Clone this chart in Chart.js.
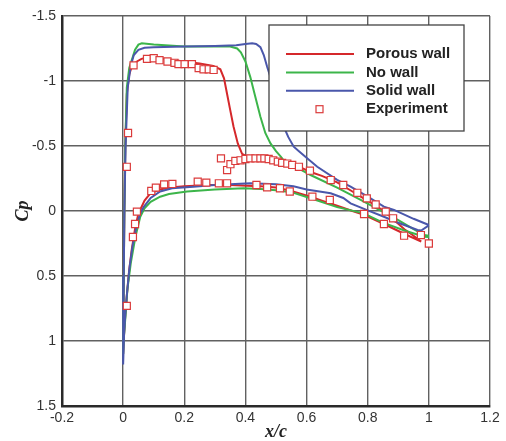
<!DOCTYPE html>
<html lang="en">
<head>
    <meta charset="UTF-8">
    <title>Cp distribution - porous wall / no wall / solid wall</title>
    <script src="https://cdn.jsdelivr.net/npm/chart.js"></script>
    <style>
        html, body { margin: 0; padding: 0; background: #fff; }
        #wrap { width: 506px; height: 441px; }
    </style>
</head>
<body>
    <div id="wrap"><canvas id="cpChart" width="506" height="441"></canvas></div>
    <script>
        // Axis ticks
        const xTicks = [-0.2, 0, 0.2, 0.4, 0.6, 0.8, 1, 1.2];
        const xTickLabels = ['-0.2', '0', '0.2', '0.4', '0.6', '0.8', '1', '1.2'];
        const cpTicks = [-1.5, -1, -0.5, 0, 0.5, 1, 1.5];
        const cpTickLabels = ['-1.5', '-1', '-0.5', '0', '0.5', '1', '1.5'];

        const seriesLabels = ['Porous wall', 'No wall', 'Solid wall', 'Experiment'];

        // Porous wall: upper surface TE -> LE, then lower surface LE -> TE
        const porousX = [0.975, 0.95, 0.92, 0.886, 0.853, 0.8, 0.777, 0.75, 0.7, 0.65, 0.613, 0.58, 0.55, 0.52, 0.5, 0.48, 0.45, 0.42, 0.405, 0.389, 0.375, 0.361, 0.35, 0.34, 0.33, 0.318, 0.295, 0.25, 0.2, 0.15, 0.1, 0.078, 0.06, 0.045, 0.035, 0.028, 0.02, 0.012, 0.007, 0.004, 0.002, 0,
                         0.003, 0.007, 0.012, 0.02, 0.028, 0.04, 0.05, 0.056, 0.07, 0.089, 0.12, 0.154, 0.2, 0.285, 0.35, 0.405, 0.45, 0.5, 0.55, 0.613, 0.65, 0.7, 0.75, 0.788, 0.853, 0.919, 0.975];
        const porousCp = [0.235, 0.19, 0.14, 0.07, 0.0, -0.08, -0.11, -0.15, -0.22, -0.27, -0.30, -0.335, -0.36, -0.38, -0.395, -0.405, -0.415, -0.42, -0.42, -0.44, -0.52, -0.65, -0.78, -0.9, -1.02, -1.09, -1.115, -1.135, -1.15, -1.165, -1.18, -1.18, -1.17, -1.15, -1.13, -1.11, -1.05, -0.9, -0.5, 0.0, 0.5, 1.1,
                          0.95, 0.8, 0.65, 0.45, 0.3, 0.12, 0.02, -0.01, -0.08, -0.135, -0.165, -0.18, -0.19, -0.2, -0.2, -0.195, -0.19, -0.18, -0.155, -0.11, -0.08, -0.04, 0.0, 0.03, 0.1, 0.175, 0.235];

        // No wall
        const noWallX = [1.0, 0.985, 0.95, 0.9, 0.853, 0.777, 0.7, 0.613, 0.525, 0.515, 0.5, 0.482, 0.465, 0.449, 0.43, 0.416, 0.4, 0.385, 0.373, 0.35, 0.3, 0.2, 0.1, 0.061, 0.05, 0.039, 0.028, 0.02, 0.012, 0.007, 0.004, 0.002, 0,
                         0.003, 0.008, 0.014, 0.025, 0.04, 0.056, 0.07, 0.09, 0.121, 0.15, 0.209, 0.3, 0.394, 0.45, 0.5, 0.55, 0.613, 0.7, 0.787, 0.85, 0.92, 0.985, 1.0];
        const noWallCp = [0.19, 0.185, 0.14, 0.07, 0.01, -0.085, -0.18, -0.277, -0.39, -0.42, -0.46, -0.52, -0.6, -0.725, -0.9, -1.03, -1.15, -1.22, -1.25, -1.265, -1.265, -1.265, -1.28, -1.29, -1.28, -1.24, -1.16, -1.1, -0.95, -0.5, 0.0, 0.5, 1.1,
                          0.95, 0.8, 0.6, 0.4, 0.2, 0.044, -0.02, -0.07, -0.11, -0.13, -0.15, -0.165, -0.175, -0.17, -0.16, -0.145, -0.098, -0.03, 0.018, 0.09, 0.15, 0.198, 0.2];

        // Solid wall
        const solidX = [1.0, 0.95, 0.886, 0.853, 0.8, 0.744, 0.7, 0.635, 0.6, 0.575, 0.558, 0.54, 0.525, 0.51, 0.493, 0.482, 0.471, 0.46, 0.449, 0.435, 0.422, 0.4, 0.37, 0.3, 0.2, 0.1, 0.07, 0.05, 0.035, 0.025, 0.015, 0.008, 0.004, 0.002, 0,
                        0.003, 0.007, 0.012, 0.02, 0.03, 0.045, 0.056, 0.067, 0.09, 0.121, 0.16, 0.23, 0.3, 0.416, 0.5, 0.557, 0.6, 0.679, 0.72, 0.744, 0.8, 0.853, 0.9, 0.963, 0.975, 1.0];
        const solidCp = [0.108, 0.06, -0.008, -0.033, -0.11, -0.187, -0.24, -0.34, -0.41, -0.46, -0.495, -0.57, -0.65, -0.78, -0.93, -1.03, -1.11, -1.2, -1.26, -1.285, -1.29, -1.285, -1.275, -1.27, -1.265, -1.26, -1.255, -1.24, -1.2, -1.12, -0.95, -0.5, 0.0, 0.5, 1.18,
                         0.95, 0.8, 0.65, 0.45, 0.28, 0.1, 0.02, -0.03, -0.1, -0.15, -0.175, -0.187, -0.2, -0.213, -0.205, -0.19, -0.165, -0.136, -0.1, -0.059, -0.005, 0.044, 0.09, 0.146, 0.15, 0.11];

        // Experiment
        const expX = [0.012, 0.012, 0.016, 0.034, 0.078, 0.1, 0.119, 0.145, 0.168, 0.181, 0.201, 0.225, 0.247, 0.263, 0.28, 0.296, 0.32, 0.34, 0.351, 0.367, 0.384, 0.4, 0.416, 0.433, 0.449, 0.462, 0.476, 0.491, 0.506, 0.52, 0.537, 0.553, 0.575, 0.611, 0.679, 0.72, 0.766, 0.797, 0.826, 0.859, 0.883, 0.974, 1.0,
                      0.032, 0.039, 0.045, 0.092, 0.107, 0.134, 0.161, 0.244, 0.272, 0.313, 0.34, 0.436, 0.471, 0.513, 0.545, 0.619, 0.676, 0.788, 0.853, 0.919];
        const expCp = [0.73, -0.34, -0.6, -1.12, -1.17, -1.175, -1.16, -1.15, -1.14, -1.13, -1.13, -1.13, -1.1, -1.09, -1.09, -1.085, -0.405, -0.315, -0.36, -0.385, -0.39, -0.4, -0.405, -0.405, -0.405, -0.405, -0.4, -0.39, -0.38, -0.37, -0.365, -0.354, -0.34, -0.31, -0.238, -0.2, -0.14, -0.097, -0.05, 0.005, 0.056, 0.185, 0.25,
                       0.2, 0.1, 0.005, -0.154, -0.18, -0.205, -0.208, -0.226, -0.218, -0.213, -0.213, -0.2, -0.182, -0.175, -0.15, -0.11, -0.085, 0.023, 0.1, 0.19];

        function toPoints(xs, ys) {
            return xs.map((x, i) => ({ x: x, y: ys[i] }));
        }

        const red = '#d5282b';
        const green = '#3cb54a';
        const blue = '#4a57ab';
        const gridColor = '#616161';
        const axisColor = '#2a2a2a';

        // Legend drawn inside the plot, like the original figure
        const boxLegend = {
            id: 'boxLegend',
            afterDatasetsDraw(chart) {
                const ctx = chart.ctx;
                const area = chart.chartArea;
                const left = area.right - 221, top = area.top + 9;
                const w = 195, h = 106;
                ctx.save();
                ctx.fillStyle = '#fff';
                ctx.fillRect(left, top, w, h);
                ctx.strokeStyle = '#444';
                ctx.lineWidth = 1.3;
                ctx.strokeRect(left, top, w, h);
                ctx.font = 'bold 15px "Liberation Sans", Arial, sans-serif';
                ctx.textBaseline = 'middle';
                chart.data.datasets.forEach((ds, i) => {
                    const y = top + 29 + i * 18.4;
                    if (ds.showLine) {
                        ctx.strokeStyle = ds.borderColor;
                        ctx.lineWidth = 2;
                        ctx.beginPath();
                        ctx.moveTo(left + 17, y);
                        ctx.lineTo(left + 85, y);
                        ctx.stroke();
                    } else {
                        ctx.fillStyle = '#fff';
                        ctx.fillRect(left + 47, y - 3.5, 7, 7);
                        ctx.strokeStyle = ds.borderColor;
                        ctx.lineWidth = 1.2;
                        ctx.strokeRect(left + 47, y - 3.5, 7, 7);
                    }
                    ctx.fillStyle = '#222';
                    ctx.fillText(ds.label, left + 97, y);
                });
                ctx.restore();
            }
        };

        const ctx = document.getElementById('cpChart').getContext('2d');
        const cpChart = new Chart(ctx, {
            type: 'scatter',
            data: {
                datasets: [
                    {
                        label: seriesLabels[0],
                        data: toPoints(porousX, porousCp),
                        showLine: true,
                        borderColor: red,
                        borderWidth: 2,
                        pointRadius: 0,
                        tension: 0,
                        order: 3
                    },
                    {
                        label: seriesLabels[1],
                        data: toPoints(noWallX, noWallCp),
                        showLine: true,
                        borderColor: green,
                        borderWidth: 2,
                        pointRadius: 0,
                        tension: 0,
                        order: 2
                    },
                    {
                        label: seriesLabels[2],
                        data: toPoints(solidX, solidCp),
                        showLine: true,
                        borderColor: blue,
                        borderWidth: 2,
                        pointRadius: 0,
                        tension: 0,
                        order: 1
                    },
                    {
                        label: seriesLabels[3],
                        data: toPoints(expX, expCp),
                        showLine: false,
                        pointStyle: 'rect',
                        pointRadius: 5,
                        pointBorderWidth: 1.2,
                        borderColor: '#db3b3b',
                        backgroundColor: '#fff',
                        order: 0
                    }
                ]
            },
            options: {
                responsive: false,
                animation: false,
                layout: { padding: { top: 16, right: 16, left: 0, bottom: 0 } },
                plugins: {
                    legend: { display: false },
                    tooltip: { enabled: false }
                },
                scales: {
                    x: {
                        type: 'linear',
                        min: -0.2,
                        max: 1.2,
                        afterBuildTicks: s => { s.ticks = xTicks.map(v => ({ value: v })); },
                        afterFit: s => { s.height = 35; },
                        ticks: {
                            callback: (v, i) => xTickLabels[i],
                            color: '#333',
                            font: { family: '"Liberation Sans", Arial, sans-serif', size: 14 },
                            padding: 4,
                            maxRotation: 0
                        },
                        grid: { color: gridColor, lineWidth: 1.4, drawTicks: false, tickLength: 0 },
                        border: { color: axisColor, width: 2.5 },
                        title: {
                            display: true,
                            text: 'x/c',
                            color: '#222',
                            font: { family: '"Liberation Serif", "Times New Roman", serif', size: 18, style: 'italic', weight: 'bold', lineHeight: 1 },
                            padding: 0
                        }
                    },
                    y: {
                        type: 'linear',
                        reverse: true,
                        min: -1.5,
                        max: 1.5,
                        afterBuildTicks: s => { s.ticks = cpTicks.map(v => ({ value: v })); },
                        afterFit: s => { s.width = 62; },
                        ticks: {
                            callback: (v, i) => cpTickLabels[i],
                            color: '#333',
                            font: { family: '"Liberation Sans", Arial, sans-serif', size: 14 },
                            padding: 6
                        },
                        grid: { color: gridColor, lineWidth: 1.4, drawTicks: false, tickLength: 0 },
                        border: { color: axisColor, width: 2.5 },
                        title: {
                            display: true,
                            text: 'Cp',
                            color: '#222',
                            font: { family: '"Liberation Serif", "Times New Roman", serif', size: 18, style: 'italic', weight: 'bold', lineHeight: 1 },
                            padding: { top: 14, bottom: 0 }
                        }
                    }
                }
            },
            plugins: [boxLegend]
        });
    </script>
</body>
</html>
